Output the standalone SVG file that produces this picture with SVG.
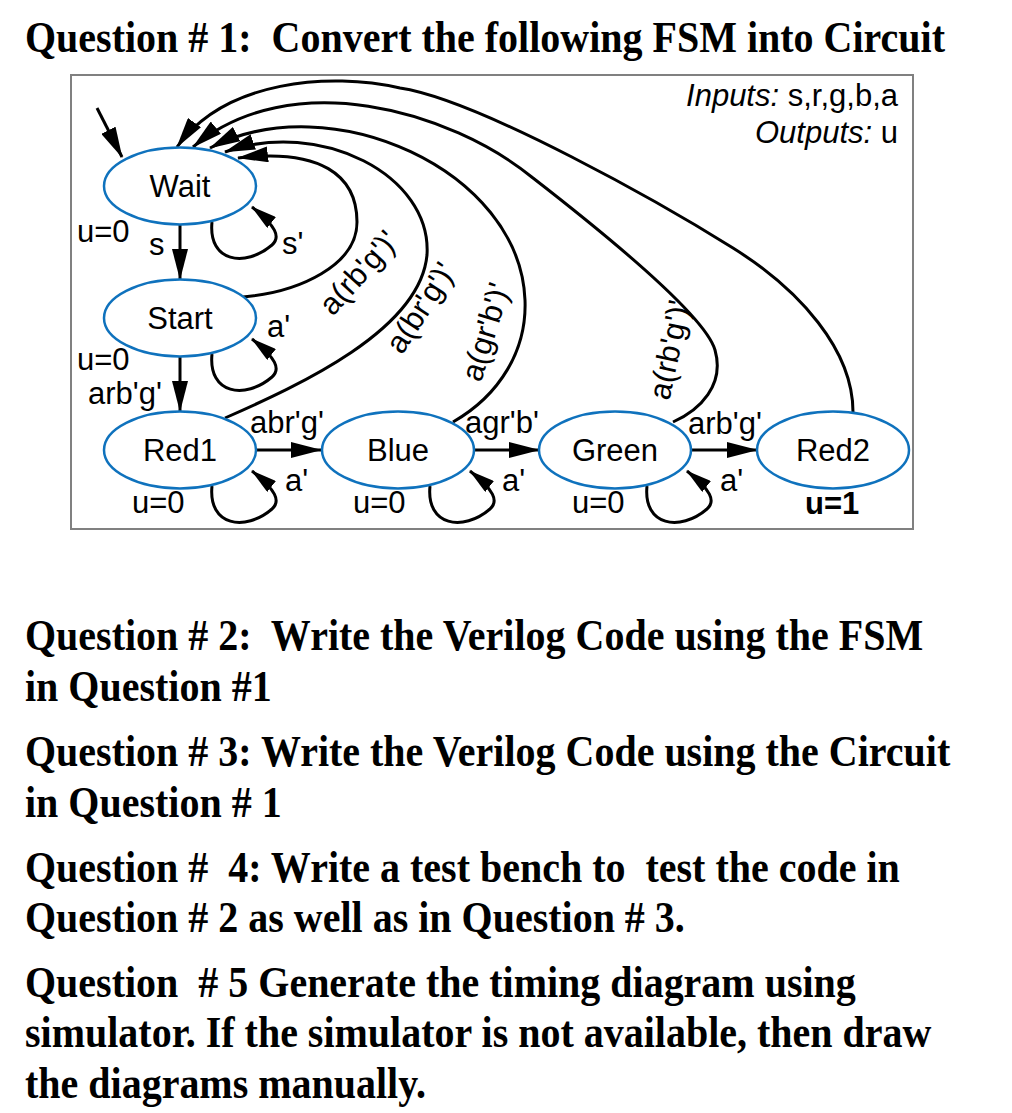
<svg xmlns="http://www.w3.org/2000/svg" width="1012" height="1113" viewBox="0 0 1012 1113">
<style>
.q{font-family:"Liberation Serif","Times New Roman",serif;font-weight:bold;font-size:40px;fill:#000;white-space:pre}
.t{font-family:"Liberation Sans",Arial,sans-serif;font-size:31px;fill:#000;white-space:pre}
.n{font-family:"Liberation Sans",Arial,sans-serif;font-size:31px;fill:#000;text-anchor:middle}
.st{fill:#fff;stroke:#0f72bd;stroke-width:2.5}
.e{fill:none;stroke:#000;stroke-width:3}
</style>
<defs>
<marker id="ah" markerUnits="userSpaceOnUse" markerWidth="31" markerHeight="16" viewBox="0 0 31 16" refX="30" refY="8" orient="auto"><path d="M0,0 L31,8 L0,16 z" fill="#000"/></marker>
<marker id="ahs" markerUnits="userSpaceOnUse" markerWidth="26" markerHeight="14" viewBox="0 0 26 14" refX="25" refY="7" orient="auto"><path d="M0,0 L26,7 L0,14 z" fill="#000"/></marker>
</defs>
<rect width="1012" height="1113" fill="#fff"/>
<text class="q" transform="translate(25,52) scale(1,1.12)">Question # 1:  Convert the following FSM into Circuit</text>
<rect x="71" y="75" width="842" height="454" fill="#fff" stroke="#808080" stroke-width="2"/>
<text class="t" text-anchor="end" x="898" y="106"><tspan font-style="italic">Inputs:</tspan> s,r,g,b,a</text>
<text class="t" text-anchor="end" x="898" y="143"><tspan font-style="italic">Outputs:</tspan> u</text>
<g id="connectors">
<path class="e" d="M97,108 L122,157" marker-end="url(#ah)"/>
<path class="e" d="M180,225 L180,279" marker-end="url(#ah)"/>
<path class="e" d="M180,357 L180,411" marker-end="url(#ah)"/>
<path class="e" d="M256,450 L321,450" marker-end="url(#ah)"/>
<path class="e" d="M474,450 L539,450" marker-end="url(#ah)"/>
<path class="e" d="M691,450 L757,450" marker-end="url(#ah)"/>
<path class="e" d="M212,222 C208,262 245,268 272,245 C281,237 276,226 252,207" marker-end="url(#ahs)"/>
<path class="e" d="M212,354 C208,394 245,400 272,377 C281,369 276,358 252,339" marker-end="url(#ahs)"/>
<path class="e" d="M212,486 C208,526 245,532 272,509 C281,501 276,490 252,471" marker-end="url(#ahs)"/>
<path class="e" d="M430,486 C426,526 463,532 490,509 C499,501 494,490 470,471" marker-end="url(#ahs)"/>
<path class="e" d="M647,486 C643,526 680,532 707,509 C716,501 711,490 687,471" marker-end="url(#ahs)"/>
<path class="e" d="M243,297 C300,292 357,265 357,222 C357,175 320,148 238,158" marker-end="url(#ah)"/>
<path class="e" d="M225,418 C300,385 420,330 427,255 C432,175 320,118 225,152" marker-end="url(#ah)"/>
<path class="e" d="M453,422 C500,395 527,350 525,300 C520,170 330,85 210,148" marker-end="url(#ah)"/>
<path class="e" d="M673,422 C700,410 725,385 715,350 C705,315 600,230 533,178 C450,110 290,65 193,147" marker-end="url(#ah)"/>
<path class="e" d="M853,412 C853,350 800,290 733,248 C666,206 480,100 400,88 C330,72 225,80 177,147" marker-end="url(#ah)"/>
</g>
<g id="wait"><ellipse class="st" cx="180" cy="186" rx="76" ry="38.5"/><text class="n" x="180" y="197">Wait</text></g>
<g id="start"><ellipse class="st" cx="180" cy="318" rx="76" ry="38.5"/><text class="n" x="180" y="329">Start</text></g>
<g id="red1"><ellipse class="st" cx="180" cy="450" rx="76" ry="38.5"/><text class="n" x="180" y="461">Red1</text></g>
<g id="blue"><ellipse class="st" cx="398" cy="450" rx="76" ry="38.5"/><text class="n" x="398" y="461">Blue</text></g>
<g id="green"><ellipse class="st" cx="615" cy="450" rx="76" ry="38.5"/><text class="n" x="615" y="461">Green</text></g>
<g id="red2"><ellipse class="st" cx="833" cy="450" rx="76" ry="38.5"/><text class="n" x="833" y="461">Red2</text></g>
<g id="labels">
<text class="t" x="77" y="242">u=0</text>
<text class="t" x="149" y="255">s</text>
<text class="t" x="282" y="254">s'</text>
<text class="t" x="77" y="370">u=0</text>
<text class="t" x="88" y="404">arb'g'</text>
<text class="t" x="267" y="337">a'</text>
<text class="t" x="250" y="433">abr'g'</text>
<text class="t" x="465" y="433">agr'b'</text>
<text class="t" x="688" y="434">arb'g'</text>
<text class="t" x="132" y="513">u=0</text>
<text class="t" x="353" y="513">u=0</text>
<text class="t" x="572" y="513">u=0</text>
<text class="t" x="285" y="491">a'</text>
<text class="t" x="502" y="491">a'</text>
<text class="t" x="720" y="491">a'</text>
<text class="t" x="805" y="514" font-weight="bold">u=1</text>
<text class="t" text-anchor="middle" transform="translate(359,273) rotate(-48)" y="10">a(rb'g')'</text>
<text class="t" text-anchor="middle" transform="translate(421,308) rotate(-57)" y="10">a(br'g')'</text>
<text class="t" text-anchor="middle" transform="translate(486,332) rotate(-73)" y="10">a(gr'b')'</text>
<text class="t" text-anchor="middle" transform="translate(670,350) rotate(-78)" y="10">a(rb'g')'</text>
</g>
<text class="q" transform="translate(25,650) scale(1,1.12)">Question # 2:  Write the Verilog Code using the FSM</text>
<text class="q" transform="translate(25,701) scale(1,1.12)">in Question #1</text>
<text class="q" transform="translate(25,766) scale(1,1.12)">Question # 3: Write the Verilog Code using the Circuit</text>
<text class="q" transform="translate(25,817) scale(1,1.12)">in Question # 1</text>
<text class="q" transform="translate(25,882) scale(1,1.12)">Question #  4: Write a test bench to  test the code in</text>
<text class="q" transform="translate(25,932) scale(1,1.12)">Question # 2 as well as in Question # 3.</text>
<text class="q" transform="translate(25,997) scale(1,1.12)">Question  # 5 Generate the timing diagram using</text>
<text class="q" transform="translate(25,1047) scale(1,1.12)">simulator. If the simulator is not available, then draw</text>
<text class="q" transform="translate(25,1098) scale(1,1.12)">the diagrams manually.</text>
</svg>
